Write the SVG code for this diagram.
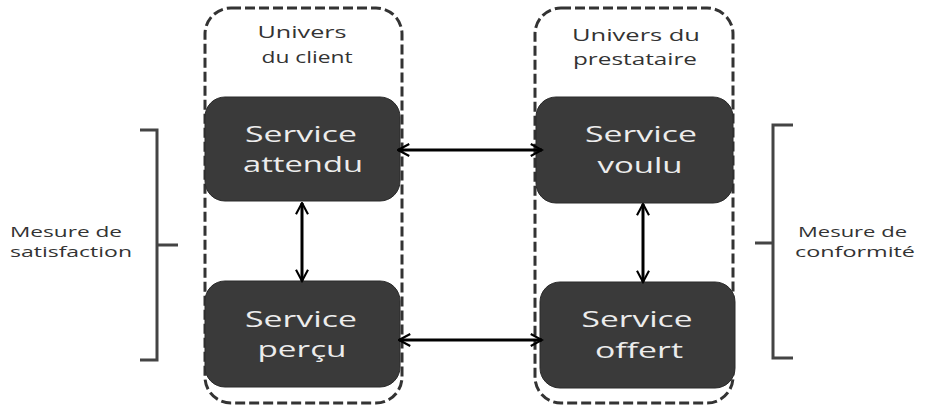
<svg xmlns="http://www.w3.org/2000/svg" width="925" height="407" viewBox="0 0 925 407">
<defs>
<style>
.univ{fill:none;stroke:#333;stroke-width:3;stroke-dasharray:10 4}
.node{fill:#3a3a3a;stroke:#2a2a2a;stroke-width:1}
.nt{font-family:"Open Sans","DejaVu Sans",sans-serif;font-size:22px;fill:#ececec;text-anchor:middle}
.ut{font-family:"Open Sans","DejaVu Sans",sans-serif;font-size:16px;fill:#333;text-anchor:middle}
.mt{font-family:"Open Sans","DejaVu Sans",sans-serif;font-size:14px;fill:#333}
.br{fill:none;stroke:#444;stroke-width:3}
.con{stroke:#000;stroke-width:3;fill:none;marker-start:url(#ah);marker-end:url(#ah)}
</style>
<marker id="ah" viewBox="0 0 10 10" refX="9" refY="5" markerWidth="5" markerHeight="5" orient="auto-start-reverse" markerUnits="strokeWidth">
<path d="M1.5,1 L9,5 L1.5,9" fill="none" stroke="#000" stroke-width="1.4"/>
</marker>
</defs>
<rect width="925" height="407" fill="#fff"/>
<g id="univers-client">
<rect class="univ" x="205" y="8" width="197" height="395" rx="26"/>
<text class="ut" x="302" y="38" textLength="89" lengthAdjust="spacingAndGlyphs">Univers</text>
<text class="ut" x="307" y="63" textLength="91" lengthAdjust="spacingAndGlyphs">du client</text>
</g>
<g id="univers-prestataire">
<rect class="univ" x="535" y="8" width="198" height="395" rx="26"/>
<text class="ut" x="636" y="41" textLength="128" lengthAdjust="spacingAndGlyphs">Univers du</text>
<text class="ut" x="635" y="65" textLength="124" lengthAdjust="spacingAndGlyphs">prestataire</text>
</g>
<g id="service-attendu">
<rect class="node" x="205" y="97" width="195" height="104" rx="20"/>
<text class="nt" x="301" y="142" textLength="112" lengthAdjust="spacingAndGlyphs">Service</text>
<text class="nt" x="303" y="172" textLength="120" lengthAdjust="spacingAndGlyphs">attendu</text>
</g>
<g id="service-voulu">
<rect class="node" x="536" y="97" width="197" height="106" rx="20"/>
<text class="nt" x="641" y="142" textLength="112" lengthAdjust="spacingAndGlyphs">Service</text>
<text class="nt" x="640" y="173" textLength="85" lengthAdjust="spacingAndGlyphs">voulu</text>
</g>
<g id="service-percu">
<rect class="node" x="205" y="281" width="195" height="106" rx="20"/>
<text class="nt" x="301" y="327" textLength="112" lengthAdjust="spacingAndGlyphs">Service</text>
<text class="nt" x="302" y="357" textLength="89" lengthAdjust="spacingAndGlyphs">perçu</text>
</g>
<g id="service-offert">
<rect class="node" x="540" y="282" width="195" height="106" rx="20"/>
<text class="nt" x="637" y="327" textLength="111" lengthAdjust="spacingAndGlyphs">Service</text>
<text class="nt" x="639" y="358" textLength="88" lengthAdjust="spacingAndGlyphs">offert</text>
</g>
<g id="connectors">
<line class="con" x1="398" y1="150" x2="542" y2="150"/>
<line class="con" x1="399" y1="340" x2="542" y2="340"/>
<line class="con" x1="302" y1="203" x2="302" y2="281"/>
<line class="con" x1="643" y1="204" x2="643" y2="282"/>
</g>
<g id="mesure-satisfaction">
<path class="br" d="M140,130 H157 V360 H140 M157,245 H178"/>
<text class="mt" x="10" y="237" textLength="112" lengthAdjust="spacingAndGlyphs">Mesure de</text>
<text class="mt" x="10" y="257" textLength="122" lengthAdjust="spacingAndGlyphs">satisfaction</text>
</g>
<g id="mesure-conformite">
<path class="br" d="M793,125 H773 V358 H793 M755,243 H773"/>
<text class="mt" x="798" y="237" textLength="109" lengthAdjust="spacingAndGlyphs">Mesure de</text>
<text class="mt" x="795" y="257" textLength="120" lengthAdjust="spacingAndGlyphs">conformité</text>
</g>
</svg>
